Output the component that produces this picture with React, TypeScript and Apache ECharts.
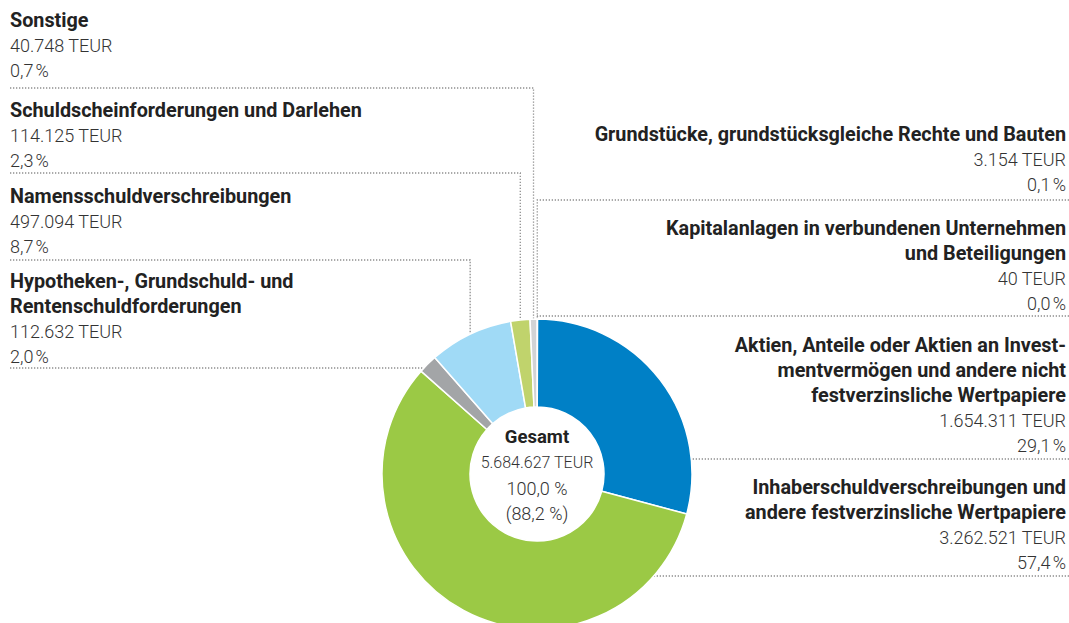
import React, { useEffect, useRef } from "react";
import * as echarts from "echarts";

// ---- data ----
const categories = [
  "Grundstücke, grundstücksgleiche Rechte und Bauten",
  "Kapitalanlagen in verbundenen Unternehmen und Beteiligungen",
  "Aktien, Anteile oder Aktien an Investmentvermögen und andere nicht festverzinsliche Wertpapiere",
  "Inhaberschuldverschreibungen und andere festverzinsliche Wertpapiere",
  "Hypotheken-, Grundschuld- und Rentenschuldforderungen",
  "Namensschuldverschreibungen",
  "Schuldscheinforderungen und Darlehen",
  "Sonstige",
];
const titleLines = [
  ["Grundstücke, grundstücksgleiche Rechte und Bauten"],
  ["Kapitalanlagen in verbundenen Unternehmen", "und Beteiligungen"],
  ["Aktien, Anteile oder Aktien an Invest-", "mentvermögen und andere nicht", "festverzinsliche Wertpapiere"],
  ["Inhaberschuldverschreibungen und", "andere festverzinsliche Wertpapiere"],
  ["Hypotheken-, Grundschuld- und", "Rentenschuldforderungen"],
  ["Namensschuldverschreibungen"],
  ["Schuldscheinforderungen und Darlehen"],
  ["Sonstige"],
];
const valuesTEUR = [3154, 40, 1654311, 3262521, 112632, 497094, 114125, 40748];
const shareLabels = ["0,1", "0,0", "29,1", "57,4", "2,0", "8,7", "2,3", "0,7"];
const sliceColors = ["#7d7f81", "#58595b", "#0080c6", "#9bc945", "#a3a5a7", "#a0daf6", "#c0d36c", "#d2d3d5"];
const centerLines = ["Gesamt", "5.684.627 TEUR", "100,0 %", "(88,2 %)"];

// ---- layout (label placement) ----
const labelLayout = [
  { side: "right", firstY: 134, sepY: 200, mode: "vertical" },
  { side: "right", firstY: 228, sepY: 316, mode: "vertical" },
  { side: "right", firstY: 345, sepY: 459, mode: "edge" },
  { side: "right", firstY: 487, sepY: 576, mode: "edge" },
  { side: "left", firstY: 281, sepY: 368, mode: "edge" },
  { side: "left", firstY: 196, sepY: 260, mode: "vertical" },
  { side: "left", firstY: 110, sepY: 173, mode: "vertical" },
  { side: "left", firstY: 20, sepY: 88, mode: "vertical" },
];

const W = 1069;
const H = 623;
const CX = 537;
const CY = 474;
const R_OUT = 155;
const R_IN = 67;
const LEFT_X = 10;
const RIGHT_X = 1066;
const LINE_H = 25;
const FONT = "Roboto, 'Noto Sans', sans-serif";
const TITLE_COLOR = "#222222";
const VALUE_COLOR = "#333333";
const DOT_COLOR = "#8f8f8f";

function fmt(n: number): string {
  return String(n).replace(/\B(?=(\d{3})+(?!\d))/g, ".");
}

export default function App() {
  const ref = useRef<HTMLDivElement>(null);

  useEffect(() => {
    if (!ref.current) return;
    const chart = echarts.init(ref.current, undefined, { renderer: "svg" });

    const total = valuesTEUR.reduce((a, b) => a + b, 0);
    let cum = 0;
    const anchors = valuesTEUR.map((v) => {
      const mid = (cum + v / 2) / total;
      cum += v;
      const th = mid * Math.PI * 2;
      return [CX + R_OUT * Math.sin(th), CY - R_OUT * Math.cos(th)];
    });

    const graphics: any[] = [];
    labelLayout.forEach((lay, i) => {
      const isLeft = lay.side === "left";
      const x = isLeft ? LEFT_X : RIGHT_X;
      const align = isLeft ? "left" : "right";
      const lines: { t: string; bold: boolean }[] = [
        ...titleLines[i].map((t) => ({ t, bold: true })),
        { t: fmt(valuesTEUR[i]) + " TEUR", bold: false },
        { t: shareLabels[i] + "\u202F%", bold: false },
      ];
      lines.forEach((ln, k) => {
        graphics.push({
          type: "text",
          x,
          y: lay.firstY + k * LINE_H,
          style: {
            text: ln.t,
            fontFamily: FONT,
            fontSize: ln.bold ? 19.8 : 18,
            fontWeight: ln.bold ? "bold" : 300,
            fill: ln.bold ? TITLE_COLOR : VALUE_COLOR,
            align,
            verticalAlign: "middle",
          },
        });
      });
      const [ax, ay] = anchors[i];
      const startX = isLeft ? LEFT_X : W;
      let pts: number[][];
      if (lay.mode === "vertical") {
        pts = [
          [startX, lay.sepY],
          [ax, lay.sepY],
          [ax, ay],
        ];
      } else {
        const dy = lay.sepY - CY;
        const dx = Math.sqrt(Math.max(0, R_OUT * R_OUT - dy * dy));
        const ex = isLeft ? CX - dx : CX + dx;
        pts = [
          [startX, lay.sepY],
          [ex, lay.sepY],
        ];
      }
      graphics.push({
        type: "polyline",
        shape: { points: pts },
        style: { stroke: DOT_COLOR, lineWidth: 1.3, lineDash: [1.3, 1.7], fill: null },
        z: 1,
      });
    });

    centerLines.forEach((t, k) => {
      graphics.push({
        type: "text",
        x: CX,
        y: 437 + k * 25.5,
        style: {
          text: t,
          fontFamily: FONT,
          fontSize: k === 0 ? 18.5 : k === 1 ? 16 : 18,
          fontWeight: k === 0 ? "bold" : 300,
          fill: k === 0 ? TITLE_COLOR : VALUE_COLOR,
          align: "center",
          verticalAlign: "middle",
        },
        z: 10,
      });
    });

    chart.setOption({
      animation: false,
      backgroundColor: "#ffffff",
      series: [
        {
          type: "pie",
          center: [CX, CY],
          radius: [R_IN, R_OUT],
          startAngle: 90,
          clockwise: true,
          minAngle: 0,
          avoidLabelOverlap: false,
          label: { show: false },
          labelLine: { show: false },
          emphasis: { disabled: true },
          itemStyle: { borderColor: "#ffffff", borderWidth: 1.5 },
          data: categories.map((name, i) => ({
            name,
            value: valuesTEUR[i],
            itemStyle: { color: sliceColors[i] },
          })),
          z: 2,
        },
      ],
      graphic: graphics,
    });

    return () => chart.dispose();
  }, []);

  return (
    <div
      ref={ref}
      style={{ position: "fixed", left: 0, top: 0, width: W, height: H }}
    />
  );
}
